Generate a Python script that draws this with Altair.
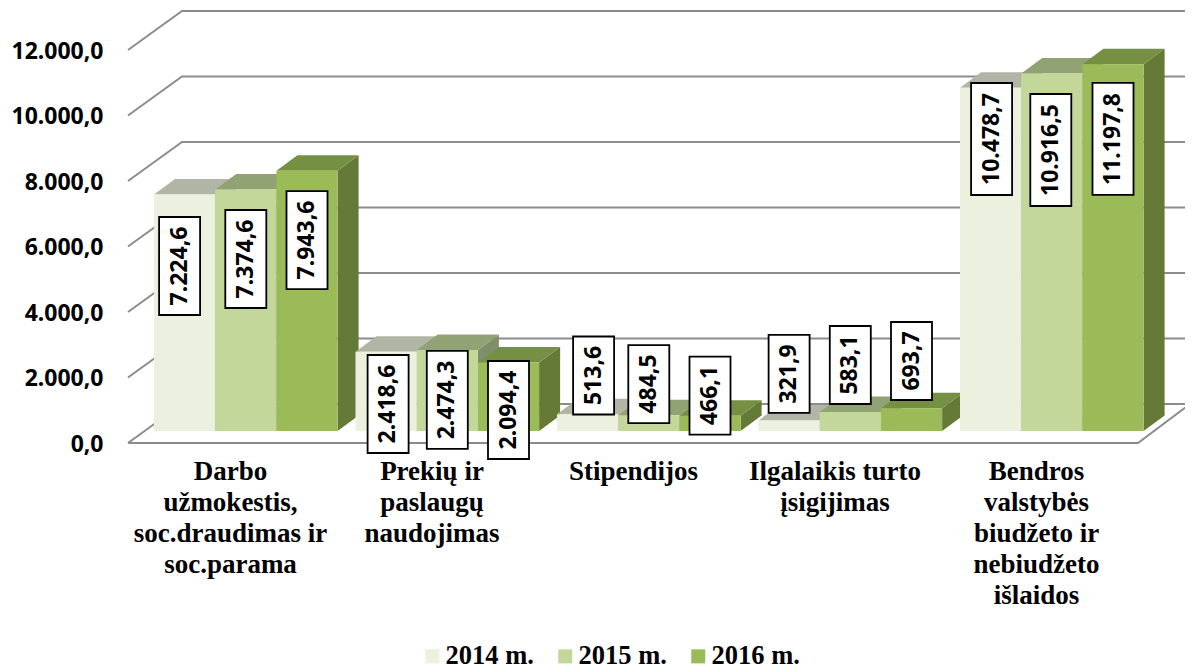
import altair as alt
import pandas as pd

# ---- data ----
categories = [
    ["Darbo", "užmokestis,", "soc.draudimas ir", "soc.parama"],
    ["Prekių ir", "paslaugų", "naudojimas"],
    ["Stipendijos"],
    ["Ilgalaikis turto", "įsigijimas"],
    ["Bendros", "valstybės", "biudžeto ir", "nebiudžeto", "išlaidos"],
]
years = ["2014 m.", "2015 m.", "2016 m."]
v2014 = [7224.6, 2418.6, 513.6, 321.9, 10478.7]
v2015 = [7374.6, 2474.3, 484.5, 583.1, 10916.5]
v2016 = [7943.6, 2094.4, 466.1, 693.7, 11197.8]
y_ticks = [0, 2000, 4000, 6000, 8000, 10000, 12000]

# ---- styling and pseudo-3D geometry ----
front = ["#EBF1DE", "#C4D79B", "#9BBB59"]
top = ["#B0B5A5", "#91A374", "#769043"]
side = ["#A0A596", "#7F8F69", "#667A38"]
grid_color = "#8C8C8C"
PX = 0.03275           # pixels per value unit
W, H = 1057, 435       # plot area
WALL_END = 1062        # the walls run slightly past the plot area
YMAX = H / PX
lift = 12 / PX         # bars stand this far above the front floor edge
wall_dx, wall_dy = 54, 39 / PX
bar_dx, bar_dy = 21, 15.5 / PX
bar_w, step, start = 61.2, 201.5, 26
label_shift = [
    [71.6, 69.5, 69.2], [52.2, 50, 47.6], [-38.7, -31.1, -20.2],
    [-46.5, -46.9, -47.3], [51.2, 76.5, 74.7],
]
label_nudge = [
    [-5, 0, 0], [2, 0, 0], [6, 0, 0], [0, 0, 0], [1, -1, 0],
]
box_len = {5: 78, 7: 98, 8: 112}
box_w = 41


def lt(v):
    return f"{v:,.1f}".replace(",", "#").replace(".", ",").replace("#", ".")


# ---- build tables ----
grid_rows, side_rows, top_rows, front_rows, box_rows = [], [], [], [], []
for t in y_ticks:
    back = t + wall_dy
    for x, y in [(0, t), (wall_dx, back), (WALL_END, back)]:
        grid_rows.append({"g": f"t{t}", "x": x, "y": y})
floor_right = WALL_END - 52
for x, y in [(0, 0), (floor_right, 0), (WALL_END, wall_dy)]:
    grid_rows.append({"g": "floor", "x": x, "y": y})

idx = 0
for c in range(len(categories)):
    for s, vals in enumerate([v2014, v2015, v2016]):
        v = vals[c]
        x0 = start + c * step + s * bar_w
        x1 = x0 + bar_w
        base = lift
        t0 = base + v
        t1 = t0 + bar_dy
        for x, y, y2 in [(x1, base, t0), (x1 + bar_dx, base + bar_dy, t1)]:
            side_rows.append({"b": idx, "x": x, "y": y, "y2": y2, "c": side[s]})
        for x, y, y2 in [(x0, t0, t0), (x0 + bar_dx, t0, t1), (x1, t0, t1), (x1 + bar_dx, t1, t1)]:
            top_rows.append({"b": idx, "x": x, "y": y, "y2": y2, "c": top[s]})
        front_rows.append({"b": idx, "x": x0, "x2": x1, "y": base, "y2": t0, "year": years[s]})
        text = lt(v)
        cx = (x0 + x1) / 2 + label_nudge[c][s]
        cy = t0 - label_shift[c][s] / PX
        h = box_len[len(text)] / PX
        box_rows.append({"x": cx - box_w / 2, "x2": cx + box_w / 2, "cx": cx, "cy": cy,
                         "y": cy - h / 2, "y2": cy + h / 2, "text": text})
        idx += 1

grid_df = pd.DataFrame(grid_rows)
side_df = pd.DataFrame(side_rows)
top_df = pd.DataFrame(top_rows)
front_df = pd.DataFrame(front_rows)
box_df = pd.DataFrame(box_rows)

xs = alt.Scale(domain=[0, W], nice=False, zero=False)
ys = alt.Scale(domain=[0, YMAX], nice=False, zero=False)
label_pos = [102 + i * step for i in range(len(categories))]
cat_expr = "%s[indexof(%s, datum.value)]" % (
    str(categories).replace("'", '"'), str(label_pos))

x_axis = alt.Axis(
    values=label_pos, labelExpr=cat_expr, domain=False, ticks=False, grid=False, title=None,
    labelFont="Liberation Serif", labelFontWeight="bold", labelFontSize=27,
    labelColor="black", labelPadding=15, labelLineHeight=31, labelBaseline="top", labelLimit=400,
    labelAngle=0, labelOverlap=False, labelBound=False, labelFlush=False)
y_axis = alt.Axis(
    values=y_ticks, labelExpr="replace(format(datum.value, ','), ',', '.') + ',0'",
    domain=False, ticks=False, grid=False, title=None, labelFont="Noto Sans", labelFontWeight="bold",
    labelFontSize=23, labelColor="black", labelPadding=25, labelOverlap=False, labelOffset=1,
    labelBound=False, labelFlush=False, labelBaseline="middle")

X = alt.X("x:Q", scale=xs, axis=x_axis)
Y = alt.Y("y:Q", scale=ys, axis=y_axis, stack=None)

grid = alt.Chart(grid_df).mark_line(color=grid_color, strokeWidth=2).encode(x=X, y=Y, detail="g:N")

side_l = alt.Chart(side_df).mark_area(orient="vertical", opacity=1).encode(
    x=X, y=Y, y2="y2:Q", detail="b:N", color=alt.Color("c:N", scale=None))
top_l = alt.Chart(top_df).mark_area(orient="vertical", opacity=1).encode(
    x=X, y=Y, y2="y2:Q", detail="b:N", color=alt.Color("c:N", scale=None))
front_l = alt.Chart(front_df).mark_rect(opacity=1).encode(
    x=X, x2="x2:Q", y=Y, y2="y2:Q",
    color=alt.Color("year:N", scale=alt.Scale(domain=years, range=front), title=None,
                    legend=alt.Legend(
                        orient="none", legendX=291, legendY=635, direction="horizontal",
                        columns=3, columnPadding=18, symbolType="square", symbolSize=196,
                        symbolStrokeWidth=0, labelFont="Liberation Serif", labelFontWeight="bold",
                        labelFontSize=26.5, labelColor="black", labelOffset=0, padding=0,
                        labelLimit=200)),
)
box_l = alt.Chart(box_df).mark_rect(fill="white", stroke="black", strokeWidth=1.8, opacity=1).encode(
    x=X, x2="x2:Q", y=Y, y2="y2:Q")
text_l = alt.Chart(box_df).mark_text(
    angle=270, font="Noto Sans", fontWeight="bold", fontSize=23, color="black",
    align="center", baseline="middle").encode(
    x=alt.X("cx:Q", scale=xs, axis=x_axis), y=alt.Y("cy:Q", scale=ys, axis=y_axis, stack=None),
    text="text:N")

chart = alt.layer(grid, side_l, top_l, front_l, box_l, text_l).resolve_scale(color="independent").properties(
    width=W, height=H, background="white",
    autosize=alt.AutoSizeParams(type="none"),
    padding={"left": 120, "top": 0, "right": 0, "bottom": 224},
).configure_view(stroke=None)

chart.save("out.html", embed_options={"renderer": "svg", "actions": False})
